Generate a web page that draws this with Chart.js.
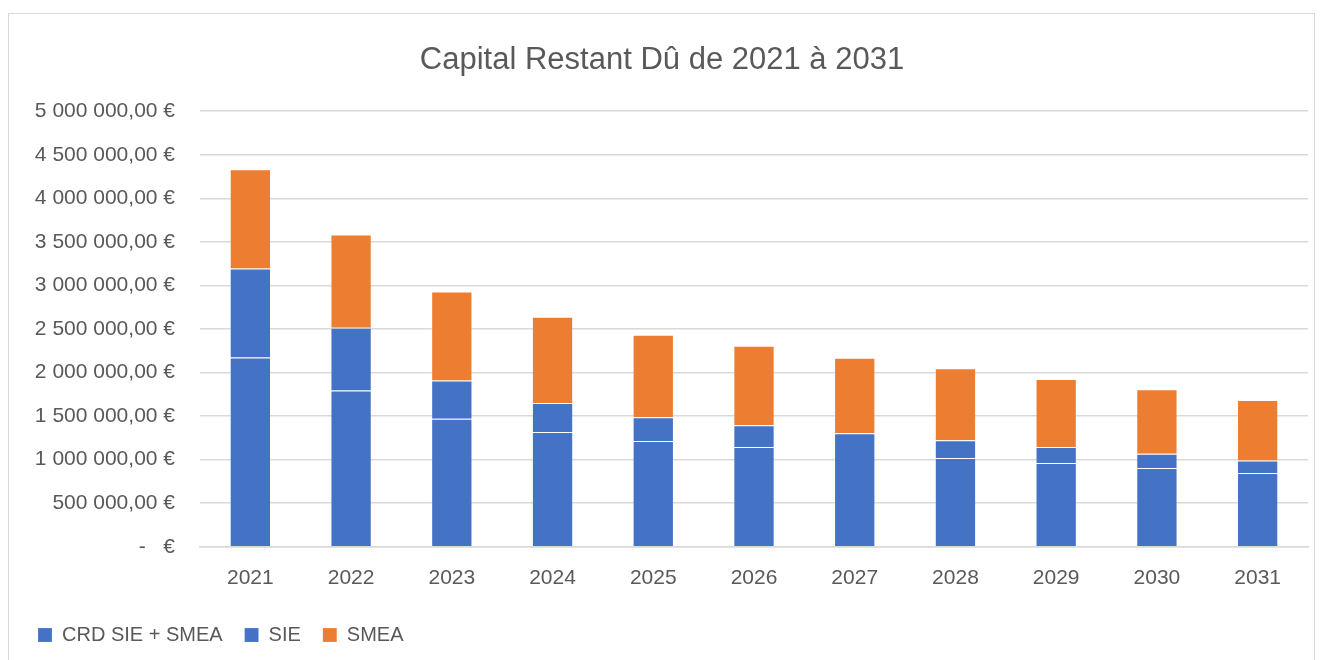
<!DOCTYPE html>
<html>
<head>
<meta charset="utf-8">
<script src="https://cdn.jsdelivr.net/npm/chart.js@4.4.1/dist/chart.umd.min.js"></script>
<style>
  html, body { margin: 0; padding: 0; background: #fff; }
  #wrap { position: relative; width: 1327px; height: 660px; }
  #frame { position: absolute; left: 8px; top: 13px; width: 1307px; height: 660px; border: 1px solid #d9d9d9; box-sizing: border-box; pointer-events: none; }
  canvas { position: absolute; left: 0; top: 0; }
</style>
</head>
<body>
<div id="wrap">
  <canvas id="c" width="1327" height="660"></canvas>
  <div id="frame"></div>
</div>
<script>
const categories = ['2021','2022','2023','2024','2025','2026','2027','2028','2029','2030','2031'];
const crdValues  = [2172000, 1793000, 1471000, 1318000, 1215000, 1146000, 1303000, 1019000, 962000, 904000, 847000];
const sieValues  = [1023000, 720000, 437000, 334000, 271000, 249000, 0, 203000, 184000, 165000, 145000];
const smeaValues = [1138000, 1073000, 1023000, 988000, 947000, 912000, 866000, 828000, 781000, 739000, 694000];
const seriesNames = ['CRD SIE + SMEA', 'SIE', 'SMEA'];
const yTickValues = [0, 500000, 1000000, 1500000, 2000000, 2500000, 3000000, 3500000, 4000000, 4500000, 5000000];
const yTickLabels = ['-   €', '500 000,00 €', '1 000 000,00 €', '1 500 000,00 €', '2 000 000,00 €', '2 500 000,00 €', '3 000 000,00 €', '3 500 000,00 €', '4 000 000,00 €', '4 500 000,00 €', '5 000 000,00 €'];
const titleText = 'Capital Restant Dû de 2021 à 2031';

const FONT = "'Liberation Sans', Arial, sans-serif";
const GREY = '#595959';
const BLUE = '#4472C4';
const ORANGE = '#ED7D31';
const EDGE = 'rgba(255,255,255,0.16)';

new Chart(document.getElementById('c'), {
  type: 'bar',
  data: {
    labels: categories,
    datasets: [
      { label: seriesNames[0], data: crdValues, backgroundColor: BLUE, borderColor: EDGE, borderWidth: 1 },
      { label: seriesNames[1], data: sieValues, backgroundColor: BLUE, borderColor: EDGE, borderWidth: 1 },
      { label: seriesNames[2], data: smeaValues, backgroundColor: ORANGE, borderColor: EDGE, borderWidth: 1 }
    ]
  },
  options: {
    responsive: false,
    animation: false,
    devicePixelRatio: 1,
    categoryPercentage: 1,
    barPercentage: 0.41,
    layout: { padding: { left: 16, right: 19, top: 30, bottom: 5 } },
    plugins: {
      title: {
        display: true,
        text: titleText,
        color: GREY,
        font: { family: FONT, size: 31, weight: 'normal' },
        padding: { top: 12, bottom: 32 }
      },
      legend: {
        display: true,
        position: 'bottom',
        align: 'start',
        labels: {
          color: GREY,
          font: { family: FONT, size: 20 },
          boxWidth: 14,
          boxHeight: 14,
          padding: 22
        }
      },
      tooltip: { enabled: false }
    },
    scales: {
      x: {
        stacked: true,
        afterFit: (scale) => { scale.height = scale.height - 7; },
        grid: { display: false, drawTicks: false },
        border: { display: true, color: '#d9d9d9', width: 1.5 },
        ticks: { color: GREY, font: { family: FONT, size: 21 }, padding: 19 }
      },
      y: {
        stacked: true,
        min: 0,
        max: 5000000,
        afterFit: (scale) => { scale.width = 184; },
        afterBuildTicks: (scale) => { scale.ticks = yTickValues.map(v => ({ value: v })); },
        grid: { color: '#d9d9d9', lineWidth: 1.5, drawTicks: false },
        border: { display: false },
        ticks: {
          color: GREY,
          font: { family: FONT, size: 21 },
          padding: 25,
          callback: (value) => {
            const i = yTickValues.indexOf(value);
            return i >= 0 ? yTickLabels[i] : '';
          }
        }
      }
    }
  }
});
</script>
</body>
</html>
